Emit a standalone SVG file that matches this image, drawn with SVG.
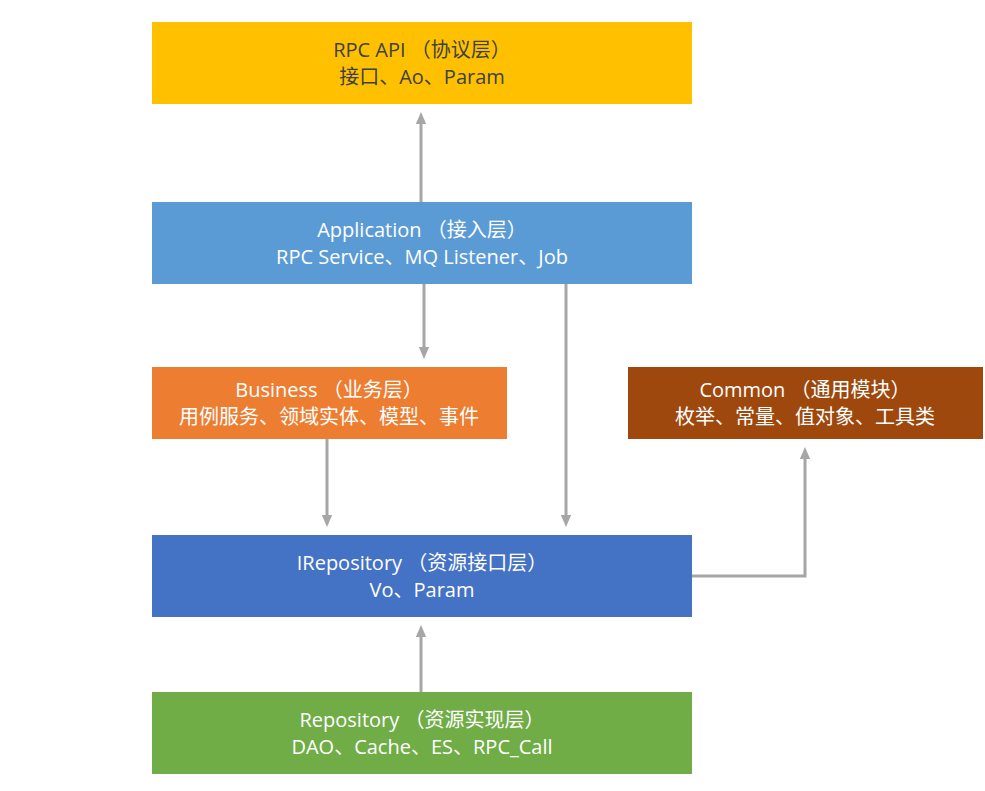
<svg xmlns="http://www.w3.org/2000/svg" width="985" height="791" viewBox="0 0 985 791">
<defs>
<marker id="arr" markerWidth="12" markerHeight="14" refX="7" refY="6" orient="auto" markerUnits="userSpaceOnUse" viewBox="0 0 14 12">
<path d="M0,0 L14,6 L0,12 z" fill="#A6A6A6"/>
</marker>
<style>
text{font-family:"Open Sans","Noto Sans CJK SC",sans-serif;font-size:20px;text-anchor:middle}
.w{fill:#FFFFFF}
.d{fill:#404040}
.c{fill:none;stroke:#A6A6A6;stroke-width:3}
</style>
</defs>
<rect width="985" height="791" fill="#FFFFFF"/>
<g id="connectors">
<path class="c" d="M421,202 V118" marker-end="url(#arr)"/>
<path class="c" d="M424,284 V353" marker-end="url(#arr)"/>
<path class="c" d="M566,284 V521" marker-end="url(#arr)"/>
<path class="c" d="M327,439 V521" marker-end="url(#arr)"/>
<path class="c" d="M692,576 H805 V453" marker-end="url(#arr)"/>
<path class="c" d="M421,692 V631" marker-end="url(#arr)"/>
</g>
<g id="rpcapi">
<rect x="152" y="22" width="540" height="82" fill="#FFC000"/>
<text class="d" y="56.5"><tspan x="422">RPC API （协议层）</tspan><tspan x="422" dy="27.5">接口、Ao、Param</tspan></text>
</g>
<g id="application">
<rect x="152" y="202" width="540" height="82" fill="#5B9BD5"/>
<text class="w" y="236.5"><tspan x="422">Application （接入层）</tspan><tspan x="422" dy="27.5">RPC Service、MQ Listener、Job</tspan></text>
</g>
<g id="business">
<rect x="152" y="367" width="355" height="72" fill="#ED7D31"/>
<text class="w" y="396.5"><tspan x="329">Business （业务层）</tspan><tspan x="329" dy="27.5">用例服务、领域实体、模型、事件</tspan></text>
</g>
<g id="common">
<rect x="628" y="367" width="355" height="72" fill="#9E480E"/>
<text class="w" y="396.5"><tspan x="805">Common （通用模块）</tspan><tspan x="805" dy="27.5">枚举、常量、值对象、工具类</tspan></text>
</g>
<g id="irepository">
<rect x="152" y="535" width="540" height="82" fill="#4472C4"/>
<text class="w" y="569.5"><tspan x="422">IRepository （资源接口层）</tspan><tspan x="422" dy="27.5">Vo、Param</tspan></text>
</g>
<g id="repository">
<rect x="152" y="692" width="540" height="82" fill="#70AD47"/>
<text class="w" y="726.5"><tspan x="422">Repository （资源实现层）</tspan><tspan x="422" dy="27.5">DAO、Cache、ES、RPC_Call</tspan></text>
</g>
</svg>
